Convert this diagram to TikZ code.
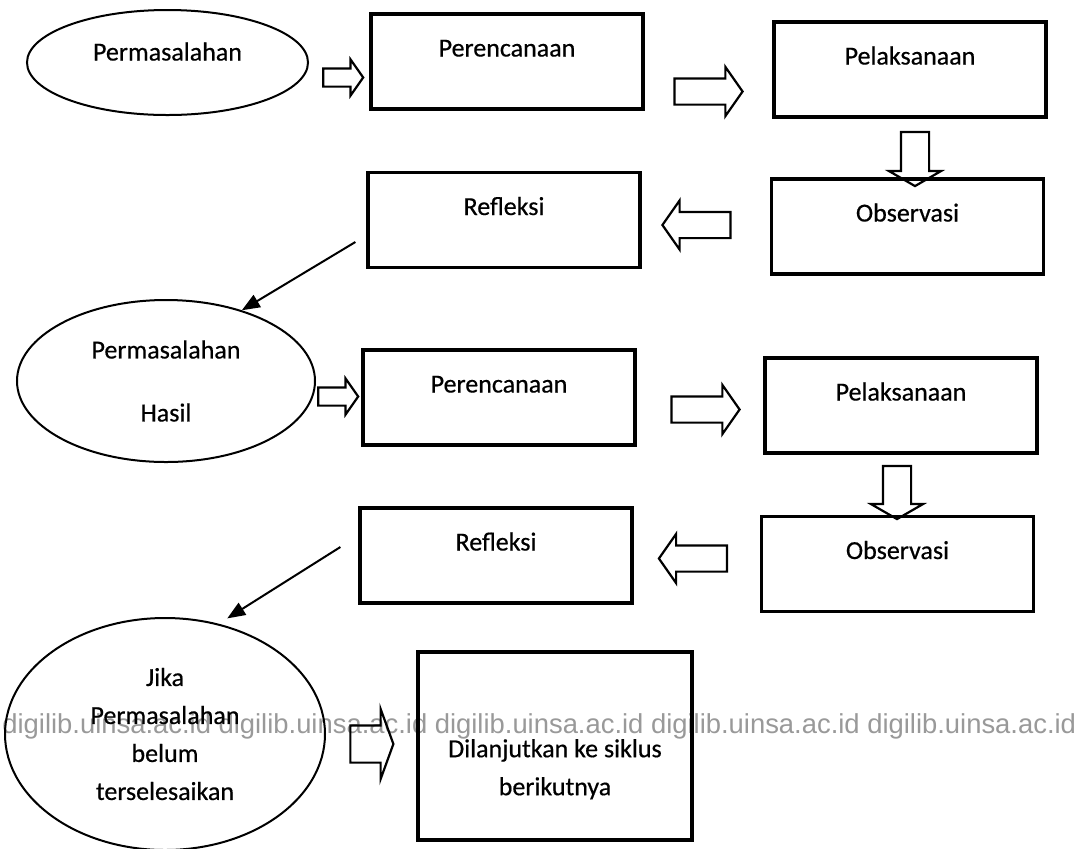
\documentclass[tikz,border=0pt]{standalone}
\usepackage{fontspec}
\setmainfont{Carlito}[FakeBold=0.5]
\newfontfamily\wmfont{Liberation Sans}
\usetikzlibrary{arrows.meta,shapes.geometric,shapes.arrows}

\begin{document}
\begin{tikzpicture}[
  x=0.5pt, y=-0.5pt,
  font=\fontsize{13pt}{19pt}\selectfont,
  stage/.style={draw, line width=1.6pt, inner sep=0pt, minimum width=136pt, minimum height=47.5pt, text height=9pt, text depth=14pt},
  problem/.style={ellipse, draw, line width=1pt, inner sep=0pt, align=center},
  hollow/.style={single arrow, draw, line width=1.1pt, single arrow tip angle=110},
  harr/.style={hollow, inner sep=6pt, minimum height=34pt, minimum width=23.5pt, single arrow head extend=5.75pt},
  sharr/.style={hollow, inner sep=4pt, minimum height=20pt, minimum width=17pt, single arrow head extend=4.5pt},
  varr/.style={hollow, inner sep=6.5pt, minimum height=27pt, minimum width=25pt, single arrow head extend=6pt, single arrow tip angle=120, shape border rotate=270},
  arr/.style={-{Triangle[length=9pt, width=7pt]}, line width=1pt},
  watermark/.style={font=\wmfont\fontsize{13.7pt}{16pt}\selectfont, text=black!40, inner sep=0pt, anchor=base west}
]
\useasboundingbox (0,0) rectangle (1087,848);
\node[watermark] (wm) at (2,733) {digilib.uinsa.ac.id digilib.uinsa.ac.id digilib.uinsa.ac.id digilib.uinsa.ac.id digilib.uinsa.ac.id};

% first cycle
\node[problem, minimum width=140.5pt, minimum height=52.5pt, text height=9pt, text depth=11pt] (prob1) at (167.5,62.5) {Permasalahan};
\node[stage] (plan1) at (507,61.5) {Perencanaan};
\node[stage] (act1) at (910,69.5) {Pelaksanaan};
\node[stage] (obs1) at (907.5,226.5) {Observasi};
\node[stage] (refl1) at (504,220) {Refleksi};

\node[sharr] (h1) at (340,77.5) {};
\node[harr] (h2) at (704,91.5) {};
\node[varr] (h3) at (915,155) {};
\node[harr, shape border rotate=180] (h4) at (701,225) {};

% second cycle
\node[problem, minimum width=149pt, minimum height=81pt] (prob2) at (166,381) {Permasalahan\\[12.5pt]Hasil};
\node[stage] (plan2) at (499,397.5) {Perencanaan};
\node[stage] (act2) at (901,405.5) {Pelaksanaan};
\node[stage] (obs2) at (897.5,564) {Observasi};
\node[stage] (refl2) at (496,555.5) {Refleksi};

\node[sharr, minimum width=16.5pt] (h5) at (335,396.5) {};
\node[harr] (h6) at (701,409.5) {};
\node[varr, minimum height=26.5pt] (h7) at (897,488.5) {};
\node[harr, shape border rotate=180] (h8) at (697.5,558.5) {};

% next cycle
\node[problem, minimum width=160pt, minimum height=116pt] (prob3) at (165,734) {Jika\\Permasalahan\\belum\\terselesaikan};
\node[stage, minimum width=137pt, minimum height=94pt, text height=, text depth=, align=center] (next) at (555,746) {\strut\\Dilanjutkan ke siklus\\berikutnya};
\node[hollow, inner xsep=0pt, inner ysep=8.75pt, minimum height=21.5pt, minimum width=34pt, single arrow head extend=8.25pt, single arrow tip angle=140] (h9) at (368.5,744) {};

\draw[arr] ([shift={(-11,22)}]refl1.west) -- (prob2.43);
\draw[arr, shorten >=5pt] ([shift={(-18,-8.5)}]refl2.west) -- (prob3.64);
\end{tikzpicture}
\end{document}
